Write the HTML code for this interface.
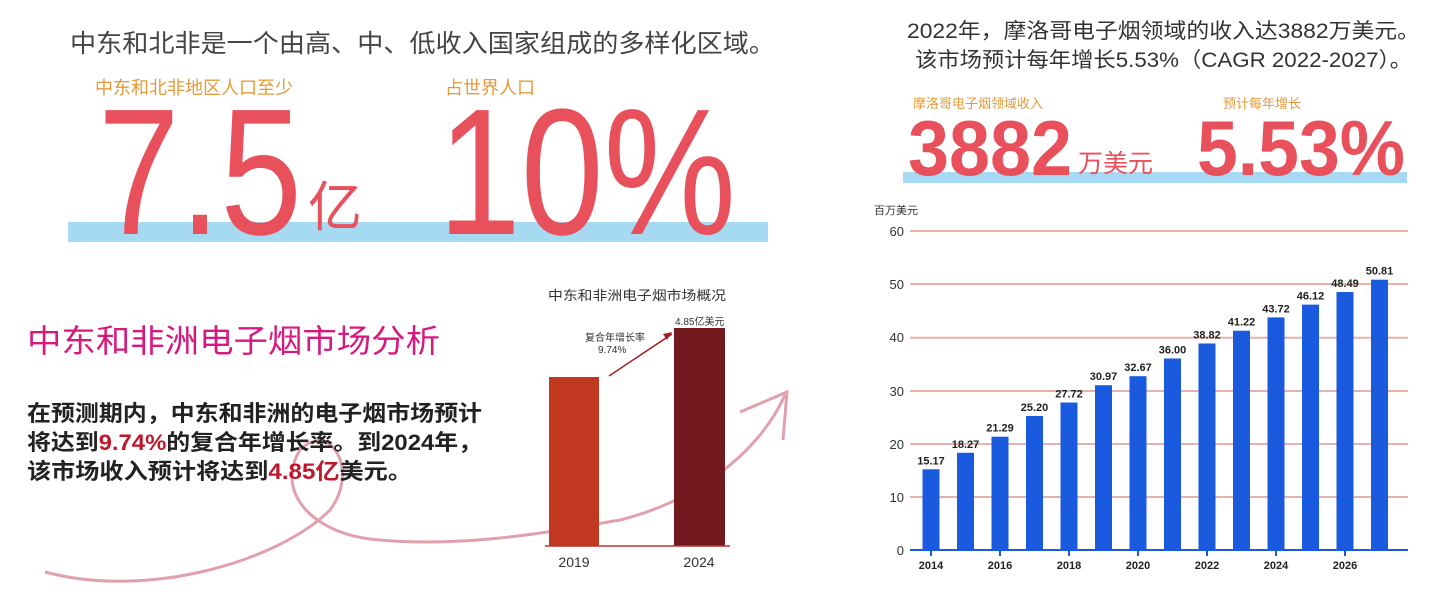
<!DOCTYPE html>
<html><head><meta charset="utf-8"><style>
body{margin:0;width:1441px;height:599px;background:#fff;overflow:hidden;font-family:"Liberation Sans","Noto Sans CJK SC",sans-serif}
svg text{font-family:"Liberation Sans","Noto Sans CJK SC",sans-serif}
</style></head><body>
<svg width="1441" height="599" viewBox="0 0 1441 599" xmlns="http://www.w3.org/2000/svg">
<text x="70" y="52" font-size="25" fill="#444" textLength="705" lengthAdjust="spacingAndGlyphs">中东和北非是一个由高、中、低收入国家组成的多样化区域。</text>
<rect x="68" y="222" width="700" height="20" fill="#a6d9f2"/>
<text x="95" y="94" font-size="18" fill="#e39a3a">中东和北非地区人口至少</text>
<text x="445" y="94" font-size="18" fill="#e39a3a">占世界人口</text>
<text x="98" y="234" font-size="180" fill="#e8505b" textLength="204" lengthAdjust="spacingAndGlyphs">7.5</text>
<text x="308" y="226" font-size="54" fill="#e8505b">亿</text>
<text x="438" y="234" font-size="180" fill="#e8505b" textLength="298" lengthAdjust="spacingAndGlyphs">10%</text>
<path d="M45 572 C150 600 280 560 330 510 C360 470 330 420 300 450 C275 490 310 535 380 540 C470 548 560 530 620 520 C700 500 760 450 785 395" fill="none" stroke="#d98a97" stroke-width="3" opacity="0.8"/>
<path d="M740 412 L787 392 L783 440" fill="none" stroke="#d98a97" stroke-width="3" opacity="0.8"/>
<text x="27" y="352" font-size="32" fill="#d6197e" textLength="413" lengthAdjust="spacingAndGlyphs">中东和非洲电子烟市场分析</text>
<text x="27" y="421" font-size="22" font-weight="bold" fill="#222" textLength="455" lengthAdjust="spacingAndGlyphs">在预测期内，中东和非洲的电子烟市场预计</text>
<text x="27" y="450" font-size="22" font-weight="bold" fill="#222" textLength="455" lengthAdjust="spacingAndGlyphs">将达到<tspan fill="#c0172c">9.74%</tspan>的复合年增长率。到2024年，</text>
<text x="27" y="479" font-size="22" font-weight="bold" fill="#222" textLength="385" lengthAdjust="spacingAndGlyphs">该市场收入预计将达到<tspan fill="#c0172c">4.85亿</tspan>美元。</text>
<text x="548" y="300" font-size="13" fill="#333" textLength="178" lengthAdjust="spacingAndGlyphs">中东和非洲电子烟市场概况</text>
<rect x="549" y="377" width="50" height="169" fill="#bf381f"/>
<rect x="674" y="328" width="51" height="218" fill="#731a1f"/>
<line x1="545" y1="546" x2="730" y2="546" stroke="#b33" stroke-width="1.5"/>
<line x1="609" y1="376" x2="672" y2="334" stroke="#a31f24" stroke-width="1.5"/>
<path d="M672 332 L663 334 L667 340 Z" fill="#a31f24"/>
<text x="675" y="325" font-size="10" fill="#333">4.85亿美元</text>
<text x="585" y="341" font-size="10" fill="#333">复合年增长率</text>
<text x="598" y="353" font-size="10" fill="#333">9.74%</text>
<text x="574" y="567" font-size="14" fill="#333" text-anchor="middle">2019</text>
<text x="699" y="567" font-size="14" fill="#333" text-anchor="middle">2024</text>
<text x="907" y="38" font-size="21" fill="#333" textLength="513" lengthAdjust="spacingAndGlyphs">2022年，摩洛哥电子烟领域的收入达3882万美元。</text>
<text x="915" y="67" font-size="21" fill="#333" textLength="497" lengthAdjust="spacingAndGlyphs">该市场预计每年增长5.53%（CAGR 2022-2027）。</text>
<rect x="903" y="172" width="504" height="11" fill="#a6d9f2"/>
<text x="913" y="108" font-size="13" fill="#e39a3a">摩洛哥电子烟领域收入</text>
<text x="1223" y="108" font-size="13" fill="#e39a3a">预计每年增长</text>
<text x="908" y="175" font-size="78" font-weight="bold" fill="#e8505b" textLength="164" lengthAdjust="spacingAndGlyphs">3882</text>
<text x="1078" y="172" font-size="25" fill="#e8505b">万美元</text>
<text x="1197" y="175" font-size="78" font-weight="bold" fill="#e8505b" textLength="208" lengthAdjust="spacingAndGlyphs">5.53%</text>
<text x="874" y="214" font-size="11" fill="#333">百万美元</text>
<g stroke="#e5b3a9" stroke-width="2">
<line x1="910" y1="231" x2="1408" y2="231"/><line x1="910" y1="284" x2="1408" y2="284"/>
<line x1="910" y1="337.7" x2="1408" y2="337.7"/><line x1="910" y1="391" x2="1408" y2="391"/>
<line x1="910" y1="444" x2="1408" y2="444"/><line x1="910" y1="497" x2="1408" y2="497"/>
</g>
<g font-size="13" fill="#333" text-anchor="end">
<text x="904" y="236">60</text><text x="904" y="289">50</text><text x="904" y="342">40</text>
<text x="904" y="396">30</text><text x="904" y="449">20</text><text x="904" y="502">10</text><text x="904" y="555">0</text>
</g>
<g fill="#1a5ade" id="bars"></g>
<line x1="910" y1="550" x2="1408" y2="550" stroke="#1a5ade" stroke-width="2"/>
<g id="lbls" font-size="11" font-weight="bold" fill="#222" text-anchor="middle"></g>
</svg>
<script>
var v=[15.17,18.27,21.29,25.20,27.72,30.97,32.67,36.00,38.82,41.22,43.72,46.12,48.49,50.81];
var b=document.getElementById('bars'),l=document.getElementById('lbls'),ns="http://www.w3.org/2000/svg";
v.forEach(function(d,i){var cx=931+i*34.5,h=d*5.32;
var r=document.createElementNS(ns,'rect');r.setAttribute('x',cx-8.5);r.setAttribute('y',550-h);r.setAttribute('width',17);r.setAttribute('height',h);b.appendChild(r);
var t=document.createElementNS(ns,'text');t.setAttribute('x',cx);t.setAttribute('y',550-h-5);t.textContent=d.toFixed(2);l.appendChild(t);
if(i%2==0){var k=document.createElementNS(ns,'line');k.setAttribute('x1',cx);k.setAttribute('x2',cx);k.setAttribute('y1',550);k.setAttribute('y2',556);k.setAttribute('stroke','#1a5ade');k.setAttribute('stroke-width','2');b.parentNode.appendChild(k);
var y=document.createElementNS(ns,'text');y.setAttribute('x',cx);y.setAttribute('y',569);y.textContent=2014+i;l.appendChild(y);}
});
</script>
</body></html>
